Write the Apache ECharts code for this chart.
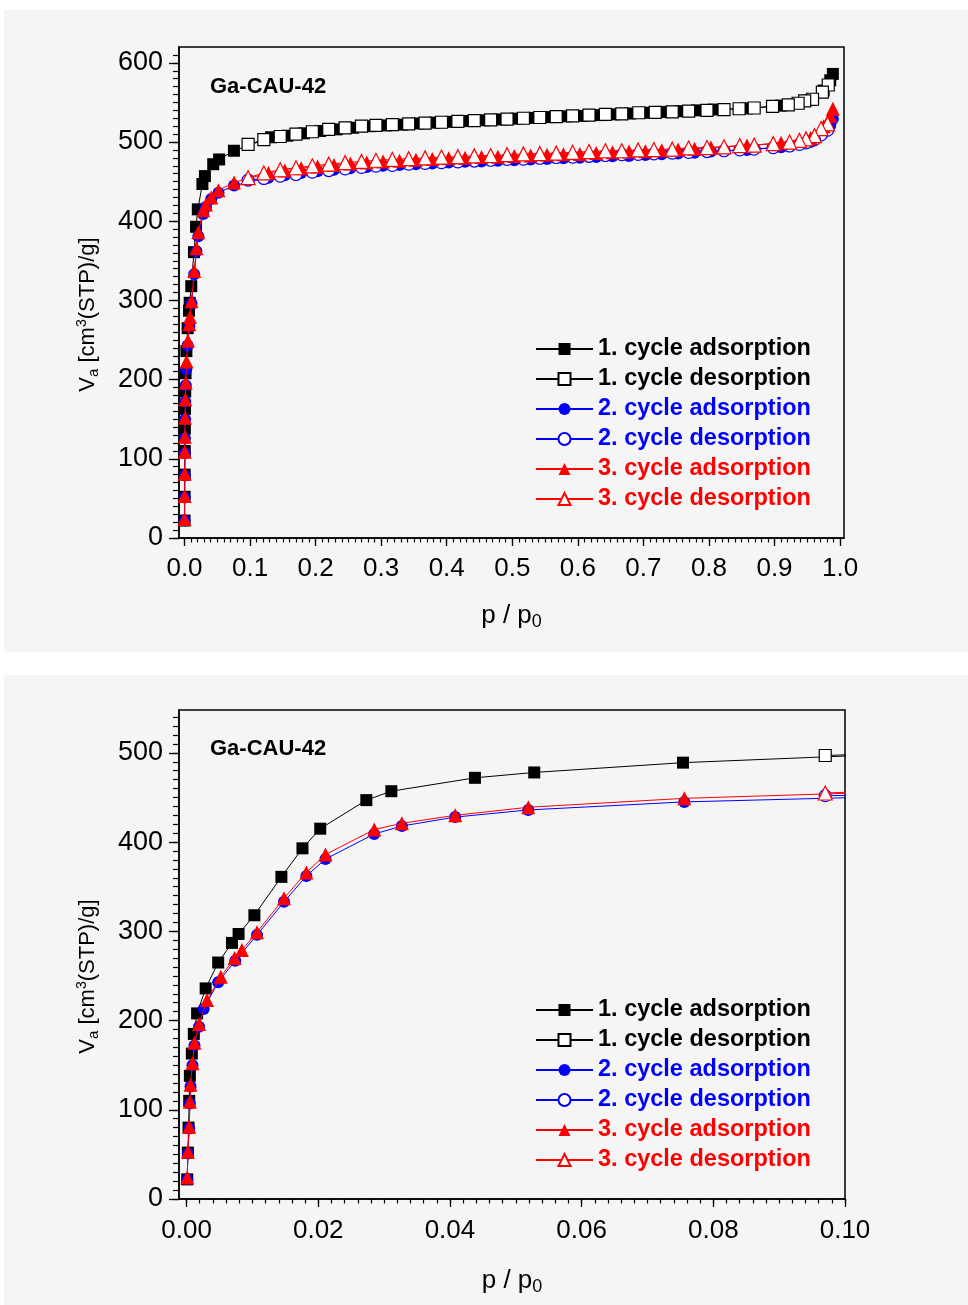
<!DOCTYPE html>
<html><head><meta charset="utf-8">
<script src="https://cdn.jsdelivr.net/npm/echarts@6/dist/echarts.min.js"></script>
<style>html,body{margin:0;padding:0;background:#fff}#c{width:968px;height:1305px}</style>
</head><body><div id="c"></div>
<script>
// ---------------- data ----------------
const seriesNames = ['1. cycle adsorption','1. cycle desorption','2. cycle adsorption','2. cycle desorption','3. cycle adsorption','3. cycle desorption'];
const sampleName = 'Ga-CAU-42';

const c1Ads = [[0.0001,22],[0.0002,52],[0.0003,80],[0.0004,110],[0.0005,138],[0.0008,163],[0.0011,185],[0.0016,208],[0.0029,236],[0.0048,265],[0.0069,287],[0.0079,297],[0.0103,318],[0.0144,361],[0.0176,393],[0.0203,415],[0.0273,447],[0.0311,457],[0.0438,472],[0.0528,478],[0.0754,489],
 [0.132,506],[0.157,508],[0.182,511],[0.207,514],[0.232,516],[0.257,518],[0.282,520],[0.307,521],[0.332,522],[0.357,523.5],[0.382,524.5],[0.407,525.5],[0.432,526.5],[0.457,527.5],[0.482,528.5],[0.507,529.5],[0.532,530.5],[0.557,531.5],[0.582,532.5],[0.607,533],[0.632,534],[0.654,535],[0.680,536],[0.705,537],[0.731,538],[0.756,539],[0.782,540],[0.807,541],[0.858,542.5],[0.910,546],[0.955,553],[0.975,565],[0.985,578],[0.989,586]];
const c1Des = [[0.982,572],[0.973,563],[0.958,554],[0.946,552],[0.936,549],[0.921,547],[0.897,545],[0.869,543],[0.846,542],[0.823,541],[0.797,540],[0.769,539],[0.744,538],[0.718,537.5],[0.693,537],[0.667,535.5],[0.642,535],[0.617,534],[0.592,533],[0.567,532],[0.542,531],[0.517,530],[0.492,529],[0.467,528],[0.442,527],[0.417,526],[0.392,525],[0.367,524],[0.342,523],[0.317,522],[0.292,521],[0.270,520],[0.245,518],[0.220,516],[0.195,513],[0.170,510],[0.146,507],[0.121,503],[0.097,497]];
const c2Ads = [[0.0001,22],[0.0002,51],[0.0004,79],[0.0005,107],[0.0006,126],[0.0009,150],[0.0012,172],[0.0019,193],[0.0026,213],[0.0048,243],[0.0074,267],[0.0107,296],[0.0148,333],[0.0182,362],[0.0211,381],[0.0285,409],[0.0327,418],[0.0408,428],[0.0519,436],[0.0756,445],
 [0.128,455],[0.153,458],[0.178,461],[0.203,463],[0.228,465],[0.253,467],[0.278,468.5],[0.303,470],[0.328,471],[0.353,472],[0.378,473],[0.403,474],[0.428,475],[0.453,475.5],[0.478,476.5],[0.503,477],[0.528,478],[0.553,478.5],[0.578,479.5],[0.603,480],[0.628,481],[0.653,482],[0.678,482.5],[0.703,483.5],[0.728,484.5],[0.753,485.5],[0.778,486.5],[0.803,488],[0.858,490],[0.910,493.5],[0.955,500],[0.975,512],[0.985,521],[0.989,529]];
const c2Des = [[0.981,515],[0.971,509],[0.961,503],[0.948,499],[0.938,497],[0.923,495],[0.898,493],[0.869,491],[0.847,490],[0.823,489],[0.797,488],[0.769,487],[0.744,486],[0.716,485],[0.692,484.5],[0.667,484],[0.642,483],[0.617,482],[0.592,481],[0.567,480.5],[0.542,479.5],[0.517,478.5],[0.492,478],[0.467,477],[0.442,476],[0.417,475],[0.392,474],[0.367,473],[0.342,472],[0.317,470.5],[0.292,469.5],[0.270,468],[0.245,466],[0.220,464],[0.195,462],[0.170,459],[0.146,457],[0.121,454],[0.097,452]];
const c3Ads = [[0.0001,24],[0.0002,53],[0.0004,81],[0.0005,109],[0.0006,128],[0.0009,152],[0.0012,175],[0.0019,196],[0.0031,223],[0.0052,249],[0.0073,270],[0.0084,279],[0.0107,299],[0.0148,337],[0.0182,366],[0.0211,386],[0.0285,414],[0.0327,421],[0.0408,430],[0.0519,439],[0.0756,449],
 [0.128,461],[0.153,464],[0.178,467],[0.203,469],[0.228,471],[0.253,473],[0.278,474],[0.303,475.5],[0.328,476.5],[0.353,477.5],[0.378,478.5],[0.403,479.5],[0.428,480],[0.453,481],[0.478,481.5],[0.503,482.5],[0.528,483],[0.553,484],[0.578,484.5],[0.603,485],[0.628,486],[0.653,487],[0.678,488],[0.703,488.5],[0.728,489.5],[0.753,490.5],[0.778,491.5],[0.803,493],[0.858,495.5],[0.910,499],[0.955,505],[0.975,520],[0.985,533],[0.989,542]];
const c3Des = [[0.981,523],[0.971,517],[0.961,508],[0.948,504],[0.938,502],[0.923,500],[0.898,498],[0.869,496],[0.847,495.5],[0.823,494],[0.797,493],[0.769,492.5],[0.744,491],[0.716,490.5],[0.692,490],[0.667,489],[0.642,489],[0.617,488],[0.592,487],[0.567,486],[0.542,485.5],[0.517,485],[0.492,484],[0.467,483],[0.442,482.5],[0.417,481.5],[0.392,481],[0.367,480],[0.342,479],[0.317,478],[0.292,477],[0.270,475.5],[0.245,474],[0.220,472],[0.195,470],[0.170,467.5],[0.146,465],[0.121,461],[0.097,455]];

const xTicksTop = [0,0.1,0.2,0.3,0.4,0.5,0.6,0.7,0.8,0.9,1.0];
const xTicksBottom = [0,0.02,0.04,0.06,0.08,0.1];
const yTicksTop = [0,100,200,300,400,500,600];
const yTicksBottom = [0,100,200,300,400,500];

function minors(start, end, step, dec) {
  const out = [];
  const n = Math.round((end - start) / step);
  for (let i = 0; i <= n; i++) out.push(+(start + i * step).toFixed(dec));
  return out;
}
const xMinorTop = minors(0, 1.0, 0.01, 3);
const xMinorBottom = minors(0, 0.1, 0.002, 4);
const yMinorTop = minors(0, 610, 10, 0);
const yMinorBottom = minors(0, 540, 10, 0);

// ---------------- styles ----------------
const FONT = '"Liberation Sans", Arial, sans-serif';
const styles = [
  {symbol:'rect', size:12, color:'#000000', filled:true},
  {symbol:'rect', size:12, color:'#000000', filled:false},
  {symbol:'circle', size:12, color:'#0000ff', filled:true},
  {symbol:'circle', size:12, color:'#0000ff', filled:false},
  {symbol:'triangle', size:14, color:'#ff0000', filled:true},
  {symbol:'triangle', size:14, color:'#ff0000', filled:false}
];
const allData = [c1Ads, c1Des, c2Ads, c2Des, c3Ads, c3Des];

const grids = [
  {left:179, top:47, width:665, height:491, show:true, borderColor:'#000', borderWidth:1.5, backgroundColor:'transparent'},
  {left:179, top:710, width:666, height:489, show:true, borderColor:'#000', borderWidth:1.5, backgroundColor:'transparent'}
];

const axisCfg = [
  {xmin:-0.0084, xmax:1.006, ymin:0, ymax:620, xt:xTicksTop, xm:xMinorTop, yt:yTicksTop, ym:yMinorTop, xdec:1, xNameGap:63, xMargin:18},
  {xmin:-0.00115, xmax:0.1, ymin:0, ymax:548, xt:xTicksBottom, xm:xMinorBottom, yt:yTicksBottom, ym:yMinorBottom, xdec:2, xNameGap:67, xMargin:19}
];

const xAxes = [], yAxes = [];
axisCfg.forEach((a, g) => {
  xAxes.push({
    type:'value', gridIndex:g, position:'bottom', min:a.xmin, max:a.xmax,
    axisLine:{show:true, onZero:false, lineStyle:{color:'#000', width:1.5}},
    axisTick:{show:true, inside:false, length:8, customValues:a.xt, lineStyle:{color:'#000', width:1.3}},
    axisLabel:{show:true, customValues:a.xt, margin:a.xMargin, color:'#000', fontSize:26, fontFamily:FONT,
      formatter:v => v.toFixed(a.xdec)},
    splitLine:{show:false},
    name:'{n|p / p}{sub|0}', nameLocation:'middle', nameGap:a.xNameGap,
    nameTextStyle:{color:'#000', fontFamily:FONT, fontSize:26,
      rich:{n:{fontSize:26, fontFamily:FONT, color:'#000', lineHeight:30},
            sub:{fontSize:18, fontFamily:FONT, color:'#000', verticalAlign:'bottom', lineHeight:18}}}
  });
  xAxes.push({
    type:'value', gridIndex:g, position:'bottom', min:a.xmin, max:a.xmax,
    axisLine:{show:false, onZero:false},
    axisTick:{show:true, inside:false, length:4.5, customValues:a.xm, lineStyle:{color:'#000', width:1.2}},
    axisLabel:{show:false}, splitLine:{show:false}
  });
  yAxes.push({
    type:'value', gridIndex:g, position:'left', min:a.ymin, max:a.ymax,
    axisLine:{show:true, onZero:false, lineStyle:{color:'#000', width:1.5}},
    axisTick:{show:true, inside:false, length:10, customValues:a.yt, lineStyle:{color:'#000', width:1.3}},
    axisLabel:{show:true, customValues:a.yt, margin:16, color:'#000', fontSize:27, fontFamily:FONT},
    splitLine:{show:false},
    name:'{n|V}{sub|a}{n| [cm}{sup|3}{n|(STP)/g]}', nameLocation:'middle', nameGap:78, nameRotate:90,
    nameTextStyle:{color:'#000', fontFamily:FONT, fontSize:22, padding:[0,44,0,0],
      rich:{n:{fontSize:22, fontFamily:FONT, color:'#000', lineHeight:26},
            sub:{fontSize:15, fontFamily:FONT, color:'#000', verticalAlign:'bottom', lineHeight:14},
            sup:{fontSize:14, fontFamily:FONT, color:'#000', verticalAlign:'top', lineHeight:14}}}
  });
  yAxes.push({
    type:'value', gridIndex:g, position:'left', min:a.ymin, max:a.ymax,
    axisLine:{show:false, onZero:false},
    axisTick:{show:true, inside:false, length:6, customValues:a.ym, lineStyle:{color:'#000', width:1.2}},
    axisLabel:{show:false}, splitLine:{show:false}
  });
});

const series = [];
[0,1].forEach(g => {
  allData.forEach((d, i) => {
    const s = styles[i];
    series.push({
      type:'line', name:seriesNames[i], xAxisIndex:g*2, yAxisIndex:g*2, data:d,
      symbol:s.symbol, symbolSize:s.size, clip:true,
      lineStyle:{color:s.color, width:1},
      itemStyle:{color:s.filled ? s.color : '#ffffff', borderColor:s.color, borderWidth:s.filled ? 0 : 1.2},
      emphasis:{disabled:true}, animation:false, z: 2 + i
    });
  });
});

const legendData = seriesNames.map((n, i) => ({name:n, textStyle:{color:styles[i].color}}));
const legends = [334, 995].map(t => ({
  orient:'vertical', left:535, top:t, padding:0, itemGap:0, itemWidth:57, itemHeight:15,
  selectedMode:false, data:legendData,
  textStyle:{fontFamily:FONT, fontSize:23.5, fontWeight:'bold', lineHeight:30}
}));

const chart = echarts.init(document.getElementById('c'), null, {renderer:'canvas'});
chart.setOption({
  backgroundColor:'#ffffff',
  animation:false,
  grid:grids, xAxis:xAxes, yAxis:yAxes, series:series, legend:legends,
  graphic:[
    {type:'rect', z:-100, shape:{x:4, y:10, width:964, height:642}, style:{fill:'#f5f5f5'}},
    {type:'rect', z:-100, shape:{x:4, y:675, width:964, height:630}, style:{fill:'#f5f5f5'}},
    {type:'text', left:210, top:76, style:{text:sampleName, font:'bold 22px ' + FONT, fill:'#000'}},
    {type:'text', left:210, top:738, style:{text:sampleName, font:'bold 22px ' + FONT, fill:'#000'}}
  ]
});
</script></body></html>
